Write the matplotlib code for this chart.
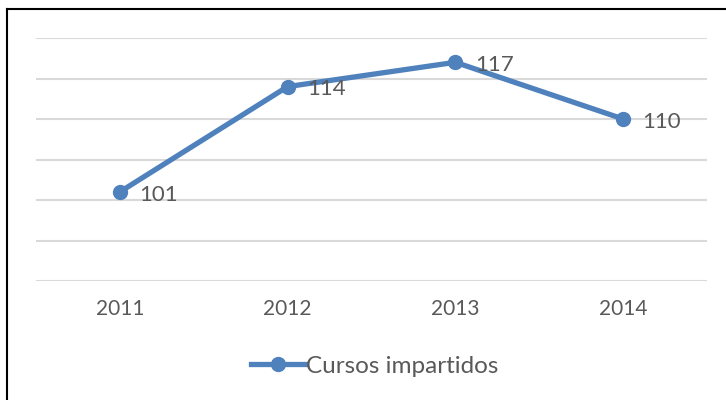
import matplotlib.pyplot as plt
from matplotlib.lines import Line2D

years = ["2011", "2012", "2013", "2014"]
cursos = [101, 114, 117, 110]
series_name = "Cursos impartidos"

plt.rcParams['font.family'] = ['Lato', 'DejaVu Sans']

BLUE = "#4F81BD"
TEXT = "#595959"
GRID = "#D9D9D9"

fig = plt.figure(figsize=(7.26, 4.0), dpi=100)
ax = fig.add_axes([36 / 726, 1 - 281 / 400, (707 - 36) / 726, (281 - 38) / 400])

x = list(range(len(years)))
ax.plot(x, cursos, color=BLUE, lw=3.8, marker="o", ms=10, label=series_name,
        solid_capstyle="round", zorder=3)

# data labels to the right of each point
for xi, v in zip(x, cursos):
    ax.annotate(str(v), (xi, v), xytext=(14, -2), textcoords="offset points",
                ha="left", va="center", fontsize=16, color=TEXT)

ax.set_xlim(-0.5, len(years) - 0.5)
ax.set_ylim(90, 120)
ax.set_yticks(range(90, 121, 5))
ax.yaxis.grid(True, color=GRID, lw=1.5)
ax.set_axisbelow(True)
ax.tick_params(axis="y", left=False, labelleft=False)
ax.set_xticks(x)
ax.set_xticklabels(years, fontsize=15, color=TEXT)
ax.tick_params(axis="x", length=0, pad=13)
for s in ax.spines.values():
    s.set_visible(False)

handles = [Line2D([0], [0], color=BLUE, lw=3.8, marker="o", ms=10)]
fig.legend(handles, [series_name], loc="center", bbox_to_anchor=(375 / 726, 1 - 366 / 400),
           frameon=False, fontsize=17.5, handlelength=2.2, handletextpad=0.05,
           labelcolor=TEXT)

# outer chart border (only left and top edges are visible in the crop)
fig.add_artist(Line2D([7 / 726, 7 / 726], [0, 1 - 9 / 400], color="black", lw=1.5,
                      transform=fig.transFigure))
fig.add_artist(Line2D([7 / 726, 1], [1 - 9 / 400, 1 - 9 / 400], color="black", lw=1.5,
                      transform=fig.transFigure))

fig.savefig("out.png", dpi=100, facecolor="white")
